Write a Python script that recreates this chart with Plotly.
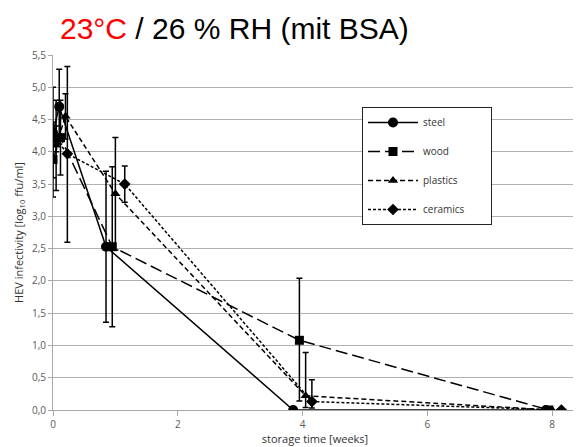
import plotly.graph_objects as go

# ---- data ----
series_names = ["steel", "wood", "plastics", "ceramics"]

steel_x = [0.0, 0.10, 0.85, 3.85, 7.90]
steel_y = [4.30, 4.70, 2.53, 0.00, 0.00]
steel_err_up = [0.70, 0.58, 1.17, 0.0, 0.0]
steel_err_dn = [0.70, 0.58, 1.17, 0.0, 0.0]

wood_x = [0.0, 0.12, 0.95, 3.95, 7.95]
wood_y = [3.88, 4.22, 2.53, 1.08, 0.00]
wood_err_up = [0.58, 0.58, 1.24, 0.96, 0.0]
wood_err_dn = [0.58, 0.58, 1.24, 0.94, 0.0]

plastics_x = [0.05, 0.20, 1.00, 4.05, 8.00]
plastics_y = [4.10, 4.55, 3.35, 0.22, 0.00]
plastics_err_up = [0.70, 0.35, 0.87, 0.67, 0.0]
plastics_err_dn = [0.70, 0.35, 0.87, 0.18, 0.0]

ceramics_x = [0.05, 0.23, 1.15, 4.15, 8.15]
ceramics_y = [4.20, 3.97, 3.50, 0.13, 0.00]
ceramics_err_up = [0.20, 1.35, 0.28, 0.34, 0.0]
ceramics_err_dn = [0.20, 1.37, 0.28, 0.10, 0.0]

x_ticks = [0, 2, 4, 6, 8]
y_ticks = [0.0, 0.5, 1.0, 1.5, 2.0, 2.5, 3.0, 3.5, 4.0, 4.5, 5.0, 5.5]

styles = {
    "steel": dict(symbol="circle", dash="solid", size=10),
    "wood": dict(symbol="square", dash="12px,5px", size=9),
    "plastics": dict(symbol="triangle-up", dash="5px,3px", size=9),
    "ceramics": dict(symbol="diamond", dash="3px,2px", size=9),
}

data = {
    "steel": (steel_x, steel_y, steel_err_up, steel_err_dn),
    "wood": (wood_x, wood_y, wood_err_up, wood_err_dn),
    "plastics": (plastics_x, plastics_y, plastics_err_up, plastics_err_dn),
    "ceramics": (ceramics_x, ceramics_y, ceramics_err_up, ceramics_err_dn),
}

# page body has an 8px margin; figure is sized/offset to compensate
OFF = 8
W, H = 581 - OFF, 447 - OFF
ML, MR, MT, MB = 53 - OFF, 4, 55 - OFF, 37
plot_w = W - ML - MR
plot_h = H - MT - MB
plot_bottom = H - MB  # in figure px


def px_x(page_x):
    return (page_x - OFF - ML) / plot_w


def px_y(page_y):
    return (plot_bottom - (page_y - OFF)) / plot_h


pad = "\u00a0" * 8

fig = go.Figure()
for name in series_names:
    x, y, eu, ed = data[name]
    st = styles[name]
    fig.add_trace(go.Scatter(
        x=x, y=y, name=name + pad, mode="lines+markers",
        legendgroup=name,
        line=dict(color="black", width=1.5, dash=st["dash"]),
        marker=dict(symbol=st["symbol"], size=st["size"], color="black"),
        error_y=dict(type="data", symmetric=False, array=eu, arrayminus=ed,
                     color="black", thickness=1.5, width=3),
    ))

fig.update_layout(
    width=W, height=H,
    margin=dict(l=ML, r=MR, t=MT, b=MB, autoexpand=False),
    paper_bgcolor="white", plot_bgcolor="white",
    separators=", ",
    font=dict(family="Liberation Sans, Arial, sans-serif", color="#404040"),
    showlegend=True,
    legend=dict(
        x=px_x(362), y=px_y(107),
        xanchor="left", yanchor="top",
        bgcolor="white", bordercolor="#222222", borderwidth=1,
        font=dict(family="Open Sans, Calibri, sans-serif", size=10, color="#333333"),
        tracegroupgap=10, itemwidth=50,
    ),
    annotations=[dict(
        x=px_x(58), y=px_y(10),
        xref="paper", yref="paper",
        text="<span style='color:#ff0000'>23°C</span> / 26 % RH (mit BSA)",
        showarrow=False, xanchor="left", yanchor="top",
        font=dict(family="Liberation Sans, Arial, sans-serif", size=30, color="black"),
    )],
)

fig.update_xaxes(
    range=[0, 8.4], tickvals=x_ticks, showgrid=False, zeroline=False,
    automargin=False,
    showline=True, linecolor="#a6a6a6", linewidth=1,
    ticks="outside", tickcolor="#a6a6a6", ticklen=5,
    tickfont=dict(family="Open Sans, Calibri, sans-serif", size=10, color="#595959"),
    title=dict(text="storage time [weeks]", standoff=2,
               font=dict(family="Open Sans, Calibri, sans-serif", size=11, color="#333333")),
)
fig.update_yaxes(
    range=[0, 5.5], tickvals=y_ticks, tickformat=".1f",
    automargin=False,
    showgrid=True, gridcolor="#b0b0b0", gridwidth=1, zeroline=False,
    showline=True, linecolor="#a6a6a6", linewidth=1,
    ticks="outside", tickcolor="#a6a6a6", ticklen=4,
    tickfont=dict(family="Open Sans, Calibri, sans-serif", size=10, color="#595959"),
    title=dict(text="HEV infectivity [log<sub>10</sub> ffu/ml]", standoff=6,
               font=dict(family="Open Sans, Calibri, sans-serif", size=11, color="#333333")),
)

fig.write_html("out.html")
